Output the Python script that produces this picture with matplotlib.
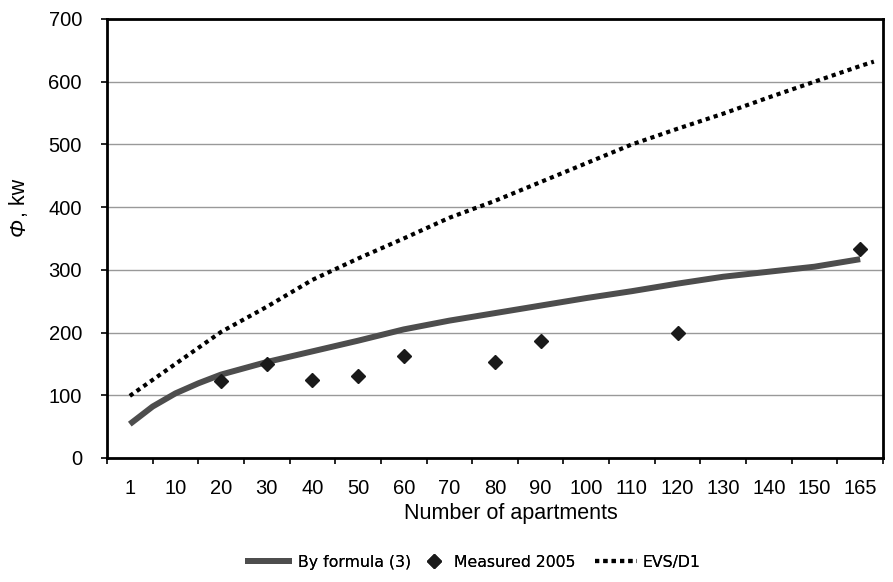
import matplotlib
matplotlib.use("Agg")
import matplotlib.pyplot as plt
from matplotlib.ticker import FixedLocator

# Category labels (number of apartments)
categories = ['1', '10', '20', '30', '40', '50', '60', '70', '80', '90',
              '100', '110', '120', '130', '140', '150', '165']

# By formula (3): category position, kW
formula_pos = [0, 0.5, 1, 1.5, 2, 3, 4, 5, 6, 7, 8, 9, 10, 11, 12, 13, 14, 15, 16]
formula_kw = [54, 82, 103, 119, 133, 153, 170, 187, 205, 219, 231, 243, 255,
              266, 278, 289, 297, 305, 317]

# Measured 2005
measured_pos = [2, 3, 4, 5, 6, 8, 9, 12, 16]
measured_kw = [122, 150, 124, 130, 162, 153, 187, 200, 333]

# EVS/D1
evs_pos = [0, 1, 2, 3, 4, 5, 6, 7, 8, 9, 10, 11, 12, 13, 14, 15, 16, 16.3]
evs_kw = [99, 150, 201, 241, 284, 318, 350, 383, 410, 440, 470, 500, 525,
          549, 575, 600, 625, 632]

plt.rcParams['font.family'] = ['Liberation Sans', 'DejaVu Sans']

fig = plt.figure(figsize=(8.93, 5.82), dpi=100)
ax = fig.add_axes([0.1198, 0.2131, 0.869, 0.7543])

# Plot
l1, = ax.plot(formula_pos, formula_kw, color='#4d4d4d', lw=4.3,
              solid_capstyle='butt', label='By formula (3)', zorder=3)
l2, = ax.plot(measured_pos, measured_kw, ls='none', marker='D', ms=7,
              color='#1a1a1a', label='Measured 2005', zorder=4)
l3, = ax.plot(evs_pos, evs_kw, color='black', lw=3, ls=(0, (1, 1)),
              label='EVS/D1', zorder=3)

# Axes
ax.set_ylim(0, 700)
ax.set_xlim(-0.5, 16.5)
ax.set_yticks(range(0, 701, 100))
ax.set_xticks(range(len(categories)))
ax.set_xticklabels(categories)
ax.xaxis.set_minor_locator(FixedLocator([i - 0.5 for i in range(len(categories) + 1)]))
ax.tick_params(axis='x', which='major', length=0, pad=15, labelsize=14.5)
ax.tick_params(axis='x', which='minor', length=4, width=1.2, direction='out')
ax.tick_params(axis='y', length=4, width=1.2, direction='out', pad=14, labelsize=14.5)
ax.yaxis.grid(True, color='#999999', lw=1.0)
ax.set_axisbelow(True)
for s in ax.spines.values():
    s.set_linewidth(2)
    s.set_color('black')

ax.set_xlabel('Number of apartments', fontsize=15.5)
ax.xaxis.set_label_coords(0.521, -0.103)

# y label: italic Phi + upright unit
ax.text(-0.113, 0.506, 'Φ', rotation=90, ha='center', va='bottom',
        fontsize=15.5, style='italic', transform=ax.transAxes)
ax.text(-0.113, 0.549, ', kw', rotation=90, ha='center', va='bottom',
        fontsize=15.5, transform=ax.transAxes)

# Legend: one entry each so the handle lengths can differ
legend_font = {'family': 'DejaVu Sans', 'size': 11.3}
for line, x0, hl, pad in [(l1, 0.2744, 3.0, 0.35),
                          (l2, 0.4716, 1.6, 0.5),
                          (l3, 0.6663, 2.7, 0.3)]:
    leg = fig.legend(handles=[line], loc='center left', bbox_to_anchor=(x0, 0.034),
                     frameon=False, prop=legend_font, handlelength=hl,
                     handletextpad=pad, borderpad=0, borderaxespad=0)
    fig.add_artist(leg)

fig.savefig('out.png', dpi=100)
